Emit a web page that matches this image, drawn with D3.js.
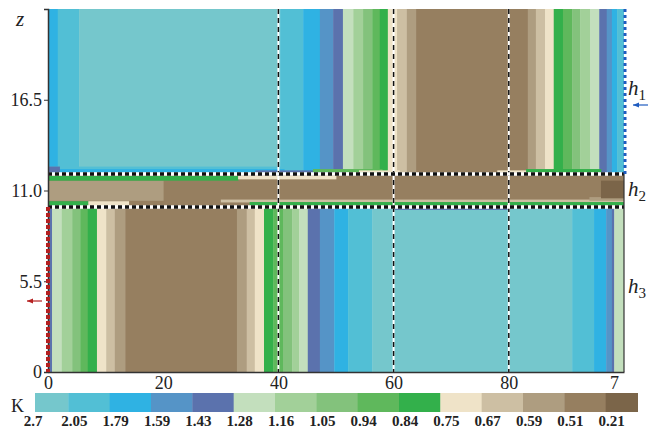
<!DOCTYPE html>
<html lang="en">
<head>
    <meta charset="UTF-8">
    <title>K contour map</title>
    <script src="https://d3js.org/d3.v7.min.js"></script>
    <style>
        body { margin: 0; background: #fff; }
        svg { display: block; }
        text { font-family: "Liberation Serif", "DejaVu Serif", serif; fill: #222; }
    </style>
</head>
<body>
    <svg id="chart" width="651" height="431"></svg>
    <script>
        // colour levels of K, left to right in the legend
        const levels = ["2.7", "2.05", "1.79", "1.59", "1.43", "1.28", "1.16", "1.05",
                        "0.94", "0.84", "0.75", "0.67", "0.59", "0.51", "0.21"];
        const levelColors = ["#75c7cc", "#52bfd5", "#2fb2e3", "#5594c7", "#5b72ad", "#c3dfbd",
                             "#a2d099", "#83c27c", "#5fb85c", "#33b04b", "#efe3c8", "#cdbfa3",
                             "#ae9d80", "#967f60", "#7b6549"];

        // layers (z ranges)
        const layerNames = ["h1", "h2", "h3"];
        const layerTop = [22, 12, 10];
        const layerBottom = [12, 10, 0];

        // band edges along x for each layer, and the level between consecutive edges
        const h1Edges = [0, 1.7, 5.4, 40.3, 44.3, 47.2, 49.5, 51.2, 53.0, 54.7, 56.3, 57.6, 59.0, 60.6,
                         62.3, 63.9, 83.3, 84.7, 86.3, 87.8, 89.4, 91.0, 92.4, 94.1, 95.7, 97.0, 97.9, 98.8, 100];
        const h1Levels = ["1.79", "2.05", "2.7", "2.05", "1.79", "1.59", "1.43", "1.28", "1.16", "1.05",
                          "0.94", "0.84", "0.75", "0.67", "0.59", "0.51", "0.59", "0.67", "0.75", "0.84",
                          "0.94", "1.05", "1.16", "1.28", "1.43", "1.59", "1.79", "2.05"];
        const h2Edges = [0, 100];
        const h2Levels = ["0.51"];
        const h3Edges = [0, 0.7, 2.4, 4.2, 5.6, 6.9, 8.5, 10.1, 11.6, 13.4, 32.8, 34.5, 35.9, 37.5, 39.1,
                         40.8, 42.4, 43.6, 45.1, 47.2, 49.7, 52.1, 56.3, 91.0, 94.8, 96.9, 97.9, 98.3, 100];
        const h3Levels = ["1.43", "1.28", "1.16", "1.05", "0.94", "0.84", "0.75", "0.67", "0.59", "0.51",
                          "0.59", "0.67", "0.75", "0.84", "0.94", "1.05", "1.16", "1.28", "1.43", "1.59",
                          "1.79", "2.05", "2.7", "2.05", "1.79", "1.59", "1.43", "1.28"];

        // thin patches near the layer interfaces: [x0, x1, z0, z1, level]
        const patches = [
            // bottom of h1
            [0, 41, 12.3, 12.45, "2.05"],
            [0, 41, 12.12, 12.3, "1.79"],
            [0, 2, 12.12, 12.45, "1.43"],
            [36, 49, 12.12, 12.22, "1.43"],
            [46, 58, 12.12, 12.3, "0.94"],
            [54, 61, 12.12, 12.22, "0.75"],
            [78, 85, 12.12, 12.22, "0.75"],
            [83, 96, 12.12, 12.3, "0.84"],
            // layer h2
            [0, 20, 10.4, 11.6, "0.59"],
            [0, 33, 11.62, 11.88, "0.84"],
            [33, 50, 11.7, 11.88, "0.75"],
            [30, 100, 10.3, 10.45, "0.67"],
            [35, 100, 10.12, 10.3, "0.84"],
            [94, 100, 10.4, 10.6, "0.59"],
            [96, 100, 10.55, 11.6, "0.21"],
            // top of h3
            [0, 7, 10.05, 10.35, "0.84"],
            [7, 14, 10.05, 10.35, "0.75"],
            [60, 80, 9.85, 10.0, "1.43"]
        ];

        const xTicks = [0, 20, 40, 60, 80, 100];
        const xTickLabels = ["0", "20", "40", "60", "80", "7"];
        const yTicks = [0, 5.5, 11, 16.5];
        const yTickLabels = ["0", "5.5", "11.0", "16.5"];
        const dashedX = [40, 60, 80];
        const interfaceZ = [12, 10];

        const svg = d3.select("#chart");
        const x = d3.scaleLinear().domain([0, 100]).range([48, 624]);
        const y = d3.scaleLinear().domain([0, 22]).range([372, 9]);
        const color = d3.scaleOrdinal().domain(levels).range(levelColors);

        svg.append("clipPath").attr("id", "plot-clip")
            .append("rect")
            .attr("x", x(0)).attr("y", y(22))
            .attr("width", x(100) - x(0)).attr("height", y(0) - y(22));

        const plot = svg.append("g").attr("clip-path", "url(#plot-clip)");

        function bandRects(edges, lv, z0, z1) {
            return lv.map((l, i) => ({ x0: edges[i], x1: edges[i + 1], z0, z1, level: l }));
        }
        const bands = [
            ...bandRects(h1Edges, h1Levels, layerBottom[0], layerTop[0]),
            ...bandRects(h2Edges, h2Levels, layerBottom[1], layerTop[1]),
            ...bandRects(h3Edges, h3Levels, layerBottom[2], layerTop[2]),
            ...patches.map(p => ({ x0: p[0], x1: p[1], z0: p[2], z1: p[3], level: p[4] }))
        ];

        plot.selectAll("rect.band")
            .data(bands)
            .enter()
            .append("rect")
            .attr("class", "band")
            .attr("x", d => x(d.x0))
            .attr("y", d => y(d.z1))
            .attr("width", d => x(d.x1) - x(d.x0) + 0.4)
            .attr("height", d => y(d.z0) - y(d.z1) + 0.4)
            .attr("fill", d => color(d.level));

        // vertical dashed lines
        dashedX.forEach(v => {
            plot.append("line")
                .attr("x1", x(v)).attr("x2", x(v)).attr("y1", y(22)).attr("y2", y(0))
                .attr("stroke", "#fff").attr("stroke-width", 2);
            plot.append("line")
                .attr("x1", x(v)).attr("x2", x(v)).attr("y1", y(22)).attr("y2", y(0))
                .attr("stroke", "#111").attr("stroke-width", 1.5).attr("stroke-dasharray", "5,4");
        });

        // interface lines
        interfaceZ.forEach(v => {
            svg.append("line")
                .attr("x1", x(0)).attr("x2", x(100)).attr("y1", y(v)).attr("y2", y(v))
                .attr("stroke", "#fff").attr("stroke-width", 3.5);
            svg.append("line")
                .attr("x1", x(0)).attr("x2", x(100)).attr("y1", y(v)).attr("y2", y(v))
                .attr("stroke", "#111").attr("stroke-width", 3.5).attr("stroke-dasharray", "4,3");
        });

        // axes
        const xAxis = svg.append("g")
            .attr("transform", `translate(0,${y(0)})`)
            .call(d3.axisBottom(x).tickValues(xTicks).tickSize(0).tickPadding(4)
                .tickFormat((d, i) => xTickLabels[i]));
        xAxis.select(".domain").attr("stroke", "#333").attr("stroke-width", 1.5);
        xAxis.selectAll("text").attr("font-size", 18).attr("font-family", "Liberation Serif").attr("fill", "#222");
        xAxis.selectAll(".tick").filter(d => d === 100).select("text").attr("dx", -10);

        const yAxis = svg.append("g")
            .attr("transform", `translate(${x(0)},0)`)
            .call(d3.axisLeft(y).tickValues(yTicks).tickSize(4).tickPadding(2)
                .tickFormat((d, i) => yTickLabels[i]));
        yAxis.select(".domain").attr("stroke", "#333").attr("stroke-width", 1.5);
        yAxis.selectAll("line").attr("stroke", "#333");
        yAxis.selectAll("text").attr("font-size", 18).attr("font-family", "Liberation Serif").attr("fill", "#222");

        svg.append("line")
            .attr("x1", x(100)).attr("x2", x(100)).attr("y1", y(12)).attr("y2", y(0))
            .attr("stroke", "#333").attr("stroke-width", 1.2);

        // boundary markers
        svg.append("line")
            .attr("x1", x(100) + 1).attr("x2", x(100) + 1).attr("y1", y(22)).attr("y2", y(12))
            .attr("stroke", "#1f5cc0").attr("stroke-width", 3).attr("stroke-dasharray", "3,3");
        svg.append("line")
            .attr("x1", x(0)).attr("x2", x(0)).attr("y1", y(10)).attr("y2", y(0))
            .attr("stroke", "#b52020").attr("stroke-width", 4).attr("stroke-dasharray", "4,2");

        // arrows
        function arrow(x1, x2, yy, c) {
            svg.append("line").attr("x1", x1).attr("x2", x2).attr("y1", yy).attr("y2", yy)
                .attr("stroke", c).attr("stroke-width", 1.2);
            svg.append("path")
                .attr("d", `M${x2},${yy}L${x2 + 6},${yy - 2.5}L${x2 + 6},${yy + 2.5}Z`)
                .attr("fill", c);
        }
        arrow(648, 633, 105, "#1f5cc0");
        arrow(42, 27, 301, "#b52020");

        // labels
        svg.append("text").attr("x", 16).attr("y", 26)
            .attr("font-size", 21).attr("font-style", "italic").text("z");

        const hLabelY = [95, 196, 293];
        layerNames.forEach((n, i) => {
            const t = svg.append("text").attr("x", 628).attr("y", hLabelY[i])
                .attr("font-size", 21).attr("font-style", "italic");
            t.append("tspan").text("h");
            t.append("tspan").attr("font-size", 15).attr("font-style", "normal")
                .attr("dy", 5).text(String(i + 1));
        });

        // colour legend
        const legend = d3.scaleBand().domain(levels).range([27, 647]);
        svg.append("clipPath").attr("id", "legend-clip")
            .append("rect").attr("x", 35).attr("y", 390).attr("width", 603).attr("height", 25);
        svg.append("g").attr("clip-path", "url(#legend-clip)")
            .selectAll("rect")
            .data(levels)
            .enter()
            .append("rect")
            .attr("x", d => legend(d))
            .attr("y", 393)
            .attr("width", legend.bandwidth() + 0.4)
            .attr("height", 19)
            .attr("fill", d => color(d));

        svg.selectAll("text.leg")
            .data(levels)
            .enter()
            .append("text")
            .attr("class", "leg")
            .attr("x", d => legend(d) + 6)
            .attr("y", 426)
            .attr("text-anchor", "middle")
            .attr("font-size", 15)
            .attr("font-weight", "bold")
            .text(d => d);

        svg.append("text").attr("x", 11).attr("y", 412).attr("font-size", 18).text("K");
    </script>
</body>
</html>
